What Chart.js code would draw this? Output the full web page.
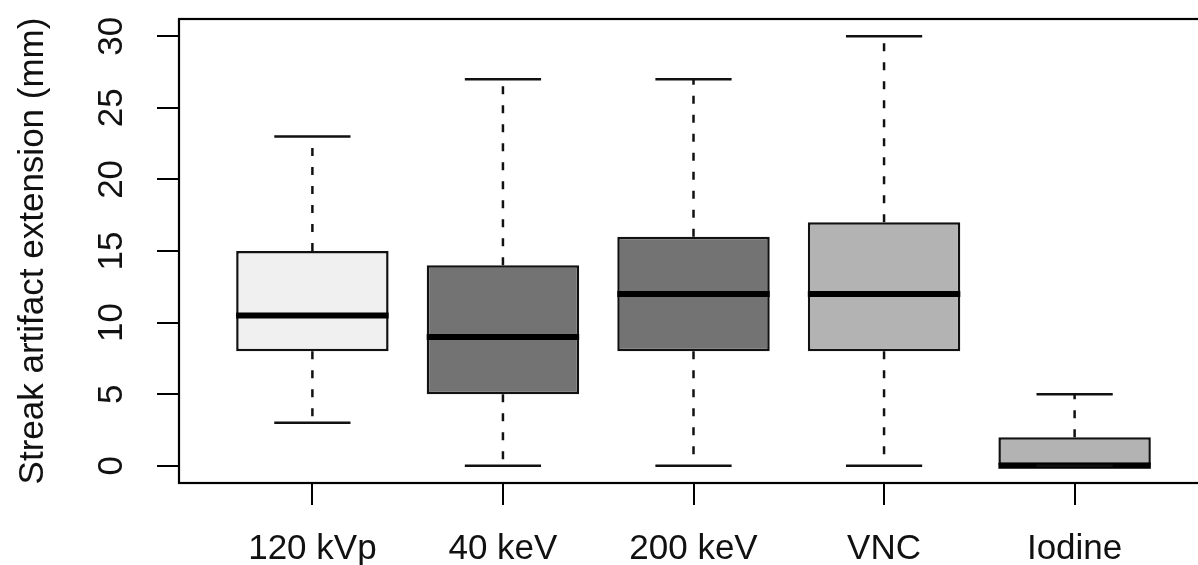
<!DOCTYPE html>
<html>
<head>
<meta charset="utf-8">
<script src="https://cdn.jsdelivr.net/npm/chart.js@4/dist/chart.umd.min.js"></script>
<style>
  html, body { margin: 0; padding: 0; background: #fff; overflow: hidden; }
  #wrap { width: 1210px; height: 565px; }
</style>
</head>
<body>
<div id="wrap"><canvas id="chart"></canvas></div>
<script>
// data
const categories = ['120 kVp', '40 keV', '200 keV', 'VNC', 'Iodine'];
const whiskerLow = [3, 0, 0, 0, 0];
const q1 = [8, 5, 8, 8, 0];
const median = [10.5, 9, 12, 12, 0];
const q3 = [15, 14, 16, 17, 2];
const whiskerHigh = [23, 27, 27, 30, 5];
const boxColors = ['#f0f0f0', '#737373', '#737373', '#b3b3b3', '#b3b3b3'];
const yTicks = [0, 5, 10, 15, 20, 25, 30];
const yTitle = 'Streak artifact extension (mm)';

const BOX_HALF = 0.4;
const CAP_HALF = 0.2;
const FONT = '"Liberation Sans", Arial, Helvetica, sans-serif';

const boxes = categories.map((c, i) => ({ x: i + 1, y: [q1[i], q3[i]] }));

const whiskers = [];
const caps = [];
const medians = [];
categories.forEach((c, i) => {
    const x = i + 1;
    whiskers.push({ x: x, y: q3[i] }, { x: x, y: whiskerHigh[i] }, { x: x, y: null });
    whiskers.push({ x: x, y: q1[i] }, { x: x, y: whiskerLow[i] }, { x: x, y: null });
    caps.push({ x: x - CAP_HALF, y: whiskerHigh[i] }, { x: x + CAP_HALF, y: whiskerHigh[i] }, { x: x, y: null });
    caps.push({ x: x - CAP_HALF, y: whiskerLow[i] }, { x: x + CAP_HALF, y: whiskerLow[i] }, { x: x, y: null });
    medians.push({ x: x - BOX_HALF, y: median[i] }, { x: x + BOX_HALF, y: median[i] }, { x: x, y: null });
});

const framePlugin = {
    id: 'frame',
    afterDraw(chart) {
        const a = chart.chartArea;
        const ctx = chart.ctx;
        ctx.save();
        ctx.strokeStyle = '#000';
        ctx.lineWidth = 2.2;
        ctx.strokeRect(a.left, a.top, a.right - a.left, a.bottom - a.top);
        ctx.restore();
    }
};

const lineBase = { type: 'line', pointRadius: 0, pointHoverRadius: 0, spanGaps: false, borderColor: '#111', fill: false, order: 1 };

new Chart(document.getElementById('chart').getContext('2d'), {
    type: 'bar',
    data: {
        datasets: [
            {
                type: 'bar',
                data: boxes,
                backgroundColor: boxColors,
                borderColor: '#111',
                borderWidth: 2.5,
                borderSkipped: false,
                categoryPercentage: 1,
                barPercentage: BOX_HALF * 2,
                order: 3
            },
            Object.assign({}, lineBase, { data: whiskers, borderWidth: 2.5, borderDash: [8, 11] }),
            Object.assign({}, lineBase, { data: caps, borderWidth: 2.5 }),
            Object.assign({}, lineBase, { data: medians, borderWidth: 6, borderColor: '#000' })
        ]
    },
    options: {
        responsive: true,
        maintainAspectRatio: false,
        animation: false,
        events: [],
        layout: { padding: { top: 19, right: 2, left: 0, bottom: 0 } },
        plugins: {
            legend: { display: false },
            tooltip: { enabled: false }
        },
        scales: {
            x: {
                type: 'linear',
                min: 0.3,
                max: 5.7,
                offset: false,
                afterBuildTicks: s => { s.ticks = categories.map((c, i) => ({ value: i + 1 })); },
                afterFit: s => { s.height = 82; s.paddingLeft = 0; s.paddingRight = 0; },
                grid: { offset: false, drawOnChartArea: false, drawTicks: true, tickLength: 22, color: '#000', lineWidth: 2 },
                border: { display: false },
                ticks: {
                    autoSkip: false,
                    maxRotation: 0,
                    padding: 23,
                    color: '#111',
                    font: { family: FONT, size: 35 },
                    callback: v => categories[v - 1]
                }
            },
            y: {
                type: 'linear',
                min: -1.2,
                max: 31.2,
                afterBuildTicks: s => { s.ticks = yTicks.map(v => ({ value: v })); },
                afterFit: s => { s.width = 179; s.paddingTop = 0; s.paddingBottom = 0; },
                grid: { drawOnChartArea: false, drawTicks: true, tickLength: 22, color: '#000', lineWidth: 2 },
                border: { display: false },
                title: {
                    display: true,
                    text: yTitle,
                    color: '#111',
                    font: { family: FONT, size: 35 },
                    padding: { top: 12, bottom: 0 }
                },
                ticks: {
                    minRotation: 90,
                    maxRotation: 90,
                    crossAlign: 'center',
                    padding: 25,
                    color: '#111',
                    font: { family: FONT, size: 35 }
                }
            }
        }
    },
    plugins: [framePlugin]
});
</script>
</body>
</html>
